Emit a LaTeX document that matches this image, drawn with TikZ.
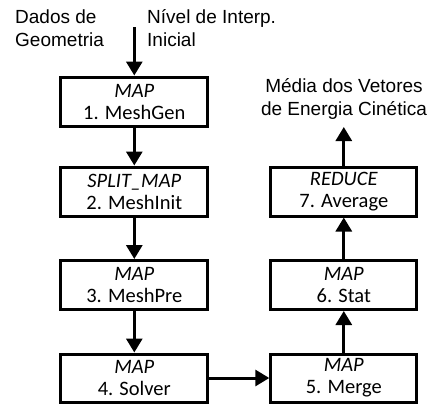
\documentclass[tikz,border=0pt]{standalone}
\usepackage{fontspec}
\setmainfont{Carlito}
\newfontfamily\arialfont{Liberation Sans}
\usetikzlibrary{arrows.meta}
\tikzset{
  stepbox/.style={draw=black, line width=3pt, minimum width=147pt, minimum height=49pt, inner sep=0pt, align=center, font=\fontsize{20.5}{22}\selectfont},
  arr/.style={line width=3pt, -{Triangle[width=16pt,length=14pt]}},
  lbl/.style={inner sep=0pt, align=left, font=\arialfont\fontsize{19}{23}\selectfont},
}
\begin{document}
\begin{tikzpicture}[x=1pt,y=1pt]
\useasboundingbox (0,0) rectangle (433,-405);
\node[stepbox] (b1) at (134.3,-101.5) {\textit{MAP}\\1. MeshGen};
\node[stepbox] (b2) at (134.3,-191.5) {\textit{SPLIT\_MAP}\\2. MeshInit};
\node[stepbox] (b3) at (134.3,-285) {\textit{MAP}\\3. MeshPre};
\node[stepbox, minimum height=48pt] (b4) at (134.3,-378) {\textit{MAP}\\4. Solver};
\node[stepbox, minimum width=146pt, minimum height=48pt] (b5) at (343.8,-378) {\textit{MAP}\\5. Merge};
\node[stepbox, minimum width=146pt] (b6) at (343.8,-285) {\textit{MAP}\\6. Stat};
\node[stepbox, minimum width=146pt] (b7) at (343.8,-191.5) {\textit{REDUCE}\\7. Average};
\node[lbl, anchor=base west] (l1) at (15,-46) {Dados de\\Geometria};
\node[lbl, anchor=base west] (l2) at (147,-46) {Nível de Interp.\\Inicial};
\node[lbl, align=center, anchor=base] (l3) at (344,-115) {Média dos Vetores\\de Energia Cinética};
\coordinate (top) at (134.3,-27);
\coordinate (out) at (343.8,-127);
\draw[arr] (top) -- (b1);
\draw[arr] (b1) -- (b2);
\draw[arr] (b2) -- (b3);
\draw[arr] (b3) -- (b4);
\draw[arr] (b4) -- (b5);
\draw[arr] (b5) -- (b6);
\draw[arr] (b6) -- (b7);
\draw[arr] (b7) -- (out);
\end{tikzpicture}
\end{document}
